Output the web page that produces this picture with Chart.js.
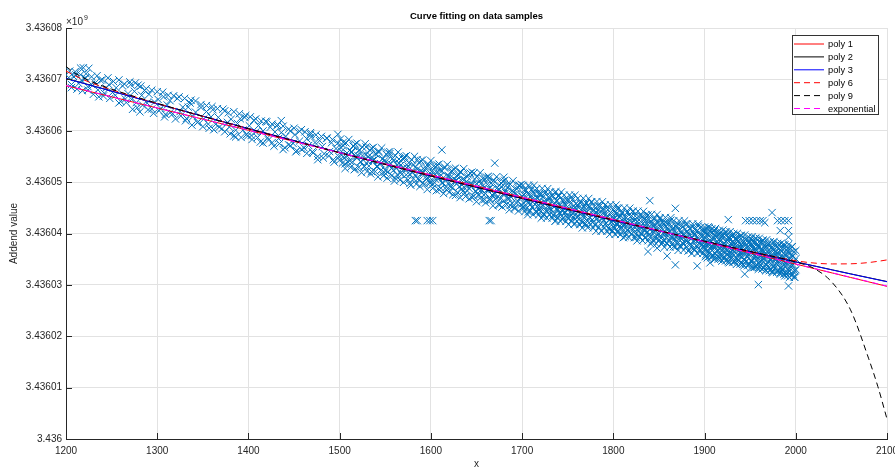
<!DOCTYPE html>
<html><head><meta charset="utf-8">
<script src="https://cdn.jsdelivr.net/npm/chart.js@4.4.0/dist/chart.umd.min.js"></script>
<style>html,body{margin:0;padding:0;background:#fff;}canvas{display:block}</style>
</head><body>
<canvas id="c" width="895" height="467"></canvas>
<script>
const chartTitle = 'Curve fitting on data samples';
const xAxisTitle = 'x';
const yAxisTitle = 'Addend value';
const exponentLabel = ['\u00d710', '9'];
const xTicks = [1200,1300,1400,1500,1600,1700,1800,1900,2000,2100];
const yTicks = [3436000000,3436010000,3436020000,3436030000,3436040000,3436050000,3436060000,3436070000,3436080000];
const fitLabels = ['poly 1','poly 2','poly 3','poly 6','poly 9','exponential'];

const sampleX = [
1203,1206,1208,1216,1219,1225,1221,1211,1214,1217,1221,1224,1228,1232,1235,1238,1241,1244,1247,1251,1255,1258,1262,1265,1268,1271,1273,1275,1277,1279,1281,1283,1286,1289,1291,1294,1297,
1301,1304,1307,1309,1311,1314,1317,1322,1325,1328,1331,1334,1337,1339,1342,1345,1348,1351,1354,1357,1359,1361,1364,1367,1371,1374,1377,1379,1381,1384,1386,1388,1391,1394,1397,1399,
1401,1403,1406,1408,1411,1413,1416,1419,1421,1424,1426,1429,1431,1433,1436,1438,1441,1444,1446,1449,1451,1453,1456,1458,1461,1464,1466,1469,1471,1473,1476,1478,1481,1483,1486,1489,1491,1493,1496,1499,1436,1468,1498,
1501,1502,1504,1506,1508,1511,1513,1515,1517,1519,1521,1523,1525,1527,1529,1531,1533,1535,1537,1539,1541,1543,1545,1547,1549,1551,1553,1555,1557,1559,1561,1563,1565,1567,1569,1571,1573,1575,1577,1579,1581,1583,1585,1587,1589,1591,1593,1595,1597,1599,
1583,1585,1596,1599,1602,1664,1666,1612,1670,
1600,1602,1603,1605,1607,1609,1610,1612,1614,1615,1617,1619,1620,1622,1624,1625,1627,1629,1630,1632,1634,1635,1637,1639,1640,1642,1644,1645,1647,1649,1650,1652,1654,1655,1657,1659,1660,1662,1664,1665,1667,1669,1670,1672,1674,1675,1677,1679,1680,1682,1684,1685,1687,1689,1690,1692,1694,1695,1697,1699,
1700,1701,1703,1704,1706,1707,1708,1709,1710,1711,1713,1714,1716,1717,1718,1719,1720,1721,1723,1724,1726,1727,1728,1729,1730,1731,1733,1734,1736,1737,1738,1739,1740,1741,1743,1744,1746,1747,1748,1749,1750,1751,1753,1754,1756,1757,1758,1759,1760,1761,1763,1764,1766,1767,1768,1769,1770,1771,1773,1774,1776,1777,1778,1779,1780,1781,1783,1784,1786,1787,1788,1789,1790,1791,1793,1794,1796,1797,1798,1799,
1800,1801,1802,1803,1804,1805,1806,1807,1808,1809,1810,1811,1812,1813,1814,1815,1816,1817,1818,1819,1820,1821,1822,1823,1824,1825,1826,1827,1828,1829,1830,1831,1832,1833,1834,1835,1836,1837,1838,1839,1840,1841,1842,1843,1844,1845,1846,1847,1848,1849,1850,1851,1852,1853,1854,1855,1856,1857,1858,1859,1860,1861,1862,1863,1864,1865,1866,1867,1868,1869,1870,1871,1872,1873,1874,1875,1876,1877,1878,1879,1880,1881,1882,1883,1884,1885,1886,1887,1888,1889,1890,1891,1892,1893,1894,1895,1896,1897,1898,1899,
1900,1901,1901,1902,1903,1904,1905,1906,1907,1907,1908,1909,1910,1911,1911,1912,1913,1914,1915,1916,1917,1917,1918,1919,1920,1921,1921,1922,1923,1924,1925,1926,1926,1927,1928,1929,1930,1931,1931,1932,1933,1934,1935,1936,1937,1937,1938,1939,1940,1941,1941,1942,1943,1944,1945,1946,1947,1947,1948,1949,1950,1951,1951,1952,1953,1954,1955,1956,1957,1957,1958,1959,1960,1961,1961,1962,1963,1964,1965,1966,1967,1967,1968,1969,1970,1971,1971,1972,1973,1974,1975,1976,1977,1977,1978,1979,1980,1981,1981,1982,1983,1984,1985,1986,1987,1987,1988,1989,1990,1991,1991,1992,1993,1994,1995,1996,1997,1997,1998,2000,2000,2000,
1945,1949,1953,1957,1961,1964,1980,1984,1988,1992,1926,1974,1966,1983,1992,1992,1944,1959,1992,1840,1868,1838,1848,1859,1868,1892,1906,1736,1680
];
const sampleY = [
3436070350,3436069000,3436070600,3436072200,3436072250,3436072150,3436070270,3436070854,3436069204,3436069854,3436070158,3436067908,3436069008,3436069312,3436067962,3436069812,3436066766,3436068316,3436068966,3436067470,3436068370,3436065420,3436068724,3436066174,3436067224,3436068978,3436064178,3436067678,3436065478,3436068878,3436063682,3436066882,3436067832,3436065382,3436067086,3436064236,3436065586,
3436066090,3436064346,3436066602,3436063206,3436065008,3436065864,3436063320,3436066278,3436063734,3436064590,3436061944,3436064600,3436065956,3436062760,3436063614,3436061770,3436064526,3436062280,3436063736,3436060492,3436062696,3436064098,3436061254,3436062610,3436060416,3436063872,3436061628,3436060732,3436062234,3436058990,3436058794,3436061398,3436062352,3436060108,3436062964,3436058968,
3436060972,3436059078,3436062037,3436059743,3436061004,3436057810,3436059970,3436061830,3436058636,3436060695,3436057701,3436059760,3436060968,3436058474,3436059633,3436056339,3436058900,3436057259,3436059965,3436057524,3436059232,3436056138,3436057997,3436060203,3436056664,3436058423,3436057129,3436058790,3436055696,3436057703,3436054362,3436058069,3436056928,3436055535,3436058494,3436055954,3436057660,3436054366,3436056526,3436054985,3436061970,3436059630,3436059300,
3436056796,3436055250,3436057759,3436053569,3436055678,3436054142,3436055951,3436056960,3436052569,3436054678,3436056188,3436053997,3436055106,3436053015,3436056824,3436054034,3436055243,3436052052,3436054261,3436055570,3436052980,3436055789,3436053598,3436054507,3436051916,3436054026,3436052035,3436055544,3436052653,3436054262,3436050772,3436053281,3436054490,3436051899,3436052708,3436054618,3436051427,3436053136,3436049745,3436051954,3436053364,3436051373,3436054382,3436050391,3436052200,3436049810,3436052419,3436051128,3436053137,3436050146,
3436042510,3436042510,3436042510,3436042510,3436042510,3436042510,3436042510,3436056265,3436053700,
3436051605,3436049617,3436053073,3436050585,3436051997,3436048509,3436052265,3436049877,3436050889,3436052945,3436048557,3436051069,3436049925,3436052037,3436048949,3436050705,3436047417,3436051129,3436049985,3436051997,3436048709,3436050565,3436047877,3436049289,3436051045,3436048757,3436049669,3436047025,3436051737,3436048149,3436049705,3436047517,3436050229,3436048485,3436050697,3436046609,3436047765,3436049577,3436050789,3436046745,3436048557,3436047769,3436050025,3436046937,3436048449,3436045505,3436049117,3436047629,3436046385,3436048397,3436049609,3436046965,3436045477,3436048289,3436047545,3436045057,3436048669,3436046325,3436049237,3436045649,
3436047310,3436045168,3436048583,3436046340,3436047755,3436044213,3436049070,3436045628,3436047385,3436045143,3436046458,3436048415,3436044130,3436046788,3436045545,3436047503,3436045060,3436047718,3436043333,3436046190,3436048105,3436044363,3436046520,3436045478,3436046935,3436044793,3436047408,3436043565,3436045880,3436042538,3436046295,3436044753,3436047410,3436044068,3436045283,3436042740,3436046455,3436044213,3436045570,3436043228,3436044785,3436046543,3436043258,3436047115,3436044030,3436045388,3436041945,3436044803,3436043160,3436045518,3436043833,3436046190,3436042105,3436044663,3436043120,3436045578,3436044235,3436041693,3436045208,3436043065,3436046080,3436042138,3436043695,3436044553,3436041710,3436043968,3436045483,3436042340,3436044355,3436040513,3436042970,3436044828,3436043885,3436041743,3436043158,3436045215,3436040730,3436044088,3436042145,3436043303,
3436042858,3436041017,3436044176,3436041835,3436044894,3436040153,3436043211,3436042170,3436043529,3436041188,3436044147,3436041706,3436042665,3436039424,3436043083,3436040642,3436044201,3436041960,3436041019,3436043278,3436039936,3436042095,3436044354,3436041313,3436042772,3436039231,3436042289,3436040548,3436043307,3436041266,3436042325,3436039884,3436043343,3436040702,3436041661,3436039120,3436042678,3436040337,3436043596,3436041155,3436039814,3436042173,3436038332,3436041491,3436042950,3436040309,3436041667,3436038926,3436040885,3436042344,3436039903,3436042862,3436039121,3436040980,3436038239,3436041698,3436040056,3436042215,3436039274,3436041033,3436041792,3436038451,3436040210,3436042569,3436039128,3436040987,3436037445,3436040304,3436039463,3436041222,3436038481,3436041840,3436039599,3436037558,3436040317,3436038976,3436041234,3436037893,3436039752,3436041811,3436038570,3436040429,3436036588,3436039747,3436041006,3436037965,3436039323,3436041282,3436037141,3436039800,3436038659,3436040418,3436037477,3436041436,3436038795,3436036454,3436039613,3436037972,3436040531,3436037490,
3436040847,3436037007,3436039107,3436035668,3436039828,3436037988,3436041149,3436036309,3436038469,3436037369,3436040029,3436035790,3436039150,3436037410,3436040610,3436035170,3436038331,3436036591,3436039551,3436037712,3436040072,3436035772,3436038632,3436036693,3436039653,3436035213,3436038113,3436037074,3436040334,3436035894,3436038755,3436034515,3436037415,3436039275,3436036236,3436038096,3436035456,3436039716,3436036816,3436038177,3436034537,3436037397,3436039057,3436035818,3436038478,3436034878,3436037538,3436036199,3436039559,3436035319,3436037219,3436033980,3436037940,3436036400,3436038860,3436034621,3436037381,3436035581,3436038241,3436034102,3436036462,3436038922,3436034722,3436037383,3436033343,3436038203,3436035663,3436039124,3436033984,3436036684,3436034844,3436037505,3436033465,3436038225,3436035625,3436036786,3436034146,3436038606,3436034966,3436037127,3436032887,3436036087,3436037547,3436034408,3436038068,3436033428,3436036228,3436034889,3436037149,3436032509,3436035669,3436038230,3436033790,3436036390,3436034950,3436037311,3436032771,3436036431,3436034231,3436037792,3436032352,3436035612,3436033173,3436036833,3436034693,3436037893,3436031754,3436035814,3436033674,3436037134,3436032434,3436035195,3436031455,3436036215,3436033976,3436037436,3436032596,3436035596,3436031557,3436035077,3436032977,3436036677,
3436042500,3436042500,3436042500,3436042500,3436042500,3436042500,3436042500,3436042500,3436042500,3436042500,3436042700,3436044070,3436042100,3436040560,3436040560,3436039280,3436032100,3436030050,3436029800,3436046400,3436044900,3436036480,3436037150,3436035640,3436033890,3436033700,3436034300,3436047960,3436050950
];

const moreX = [
1204,1206,1210,1212,1216,1218,1222,1224,1228,1230,1234,1236,1240,1242,1246,1248,1252,1254,1258,1260,1264,1266,1270,1272,1276,1278,1282,1284,1288,1290,1294,1296,1300,1302,1306,1308,1312,1314,1318,1320,1324,1326,1330,1332,1336,1338,1342,1344,1348,1350,1354,1356,1360,1362,1366,1368,1372,1374,1378,1380,1384,1386,1390,1392,1396,1398,1402,1404,1408,1410,1414,1416,1420,1422,1426,1428,1432,1434,1438,1440,1444,1446,1450,1452,1456,1458,1462,1464,1468,1470,1474,1476,1480,1482,1486,1488,1492,1494,1498,1500,
1501,1502,1503,1504,1505,1506,1507,1508,1509,1510,1511,1512,1513,1514,1515,1516,1517,1518,1519,1520,1521,1522,1523,1524,1525,1526,1527,1528,1529,1530,1531,1532,1533,1534,1535,1536,1537,1538,1539,1540,1541,1542,1543,1544,1545,1546,1547,1548,1549,1550,1551,1552,1553,1554,1555,1556,1557,1558,1559,1560,1561,1562,1563,1564,1565,1566,1567,1568,1569,1570,1571,1572,1573,1574,1575,1576,1577,1578,1579,1580,1581,1582,1583,1584,1585,1586,1587,1588,1589,1590,1591,1592,1593,1594,1595,1596,1597,1598,1599,1600,1601,1602,1603,1604,1605,1606,1607,1608,1609,1610,1611,1612,1613,1614,1615,1616,1617,1618,1619,1620,1621,1622,1623,1624,1625,1626,1627,1628,1629,1630,1631,1632,1633,1634,1635,1636,1637,1638,1639,1640,1641,1642,1643,1644,1645,1646,1647,1648,1649,1650,1651,1652,1653,1654,1655,1656,1657,1658,1659,1660,1661,1662,1663,1664,1665,1666,1667,1668,1669,1670,1671,1672,1673,1674,1675,1676,1677,1678,1679,1680,1681,1682,1683,1684,1685,1686,1687,1688,1689,1690,1691,1692,1693,1694,1695,1696,1697,1698,1699,1700,1701,
1701,1702,1702,1703,1704,1705,1705,1706,1707,1708,1708,1709,1710,1711,1711,1712,1713,1714,1714,1715,1716,1717,1717,1718,1719,1720,1720,1721,1722,1723,1723,1724,1725,1726,1726,1727,1728,1729,1729,1730,1731,1732,1732,1733,1734,1735,1735,1736,1737,1738,1738,1739,1740,1741,1741,1742,1743,1744,1744,1745,1746,1747,1747,1748,1749,1750,1750,1751,1752,1753,1753,1754,1755,1756,1756,1757,1758,1759,1759,1760,1761,1762,1762,1763,1764,1765,1765,1766,1767,1768,1768,1769,1770,1771,1771,1772,1773,1774,1774,1775,1776,1777,1777,1778,1779,1780,1780,1781,1782,1783,1783,1784,1785,1786,1786,1787,1788,1789,1789,1790,1791,1792,1792,1793,1794,1795,1795,1796,1797,1798,1798,1799,1800,1801,1801,1802,1803,1804,1804,1805,1806,1807,1807,1808,1809,1810,1810,1811,1812,1813,1813,1814,1815,1816,1816,1817,1818,1819,1819,1820,1821,1822,1822,1823,1824,1825,1825,1826,1827,1828,1828,1829,1830,1831,1831,1832,1833,1834,1834,1835,1836,1837,1837,1838,1839,1840,1840,1841,1842,1843,1843,1844,1845,1846,1846,1847,1848,1849,1849,1850,1851,1852,1852,1853,1854,1855,1855,1856,1857,1858,1858,1859,1860,1861,1861,1862,1863,1864,1864,1865,1866,1867,1867,1868,1869,1870,1870,1871,1872,1873,1873,1874,1875,1876,1876,1877,1878,1879,1879,1880,1881,1882,1882,1883,1884,1885,1885,1886,1887,1888,1888,1889,1890,1891,1891,1892,1893,1894,1894,1895,1896,1897,1897,1898,1899,1900,1900,1901,
1900,1900,1901,1901,1902,1902,1903,1903,1904,1904,1905,1905,1906,1906,1907,1907,1908,1908,1909,1909,1910,1910,1911,1911,1912,1912,1913,1913,1914,1914,1915,1915,1916,1916,1917,1917,1918,1918,1919,1919,1920,1920,1921,1921,1922,1922,1923,1923,1924,1924,1925,1925,1926,1926,1927,1927,1928,1928,1929,1929,1930,1930,1931,1931,1932,1932,1933,1933,1934,1934,1935,1935,1936,1936,1937,1937,1938,1938,1939,1939,1940,1940,1941,1941,1942,1942,1943,1943,1944,1944,1945,1945,1946,1946,1947,1947,1948,1948,1949,1949,1950,1950,1951,1951,1952,1952,1953,1953,1954,1954,1955,1955,1956,1956,1957,1957,1958,1958,1959,1959,1960,1960,1961,1961,1962,1962,1963,1963,1964,1964,1965,1965,1966,1966,1967,1967,1968,1968,1969,1969,1970,1970,1971,1971,1972,1972,1973,1973,1974,1974,1975,1975,1976,1976,1977,1977,1978,1978,1979,1979,1980,1980,1981,1981,1982,1982,1983,1983,1984,1984,1985,1985,1986,1986,1987,1987,1988,1988,1989,1989,1990,1990,1991,1991,1992,1992,1993,1993,1994,1994,1995,1995,1996,1996,1997,1997,1998,1998,1999,1999
];
const moreY = [
3436071600,3436068400,3436071500,3436068100,3436070900,3436067800,3436071100,3436068600,3436070500,3436067100,3436070700,3436066600,3436069900,3436067300,3436070300,3436066300,3436069600,3436066900,3436069900,3436065700,3436069100,3436065500,3436069500,3436066100,3436069300,3436064500,3436068700,3436065000,3436068200,3436064100,3436067900,3436063400,3436067600,3436063900,3436067500,3436062700,3436066900,3436063500,3436066800,3436062300,3436066600,3436062900,3436066300,3436062400,3436065400,3436061100,3436065800,3436061600,3436065100,3436060800,3436064900,3436061300,3436064700,3436060200,3436064300,3436060700,3436064200,3436059800,3436063500,3436059400,3436063700,3436060100,3436063300,3436058700,3436062600,3436059300,3436062700,3436058300,3436062300,3436058700,3436061900,3436057600,3436061700,3436058200,3436061300,3436057000,3436061200,3436057500,3436060900,3436056700,3436060300,3436057100,3436060500,3436055900,3436059900,3436056400,3436059800,3436055600,3436059300,3436055900,3436059200,3436055000,3436058900,3436054700,3436058600,3436055100,3436058300,3436053900,3436057600,3436054300,
3436058400,3436056000,3436053700,3436057060,3436054760,3436052660,3436057620,3436055120,3436053920,3436058290,3436056190,3436052890,3436055750,3436053950,3436057050,3436052420,3436057420,3436055020,3436057580,3436055180,3436052880,3436056240,3436053940,3436051840,3436056810,3436054310,3436053110,3436057470,3436055370,3436052070,3436054930,3436053130,3436056230,3436051600,3436056600,3436054200,3436056760,3436054360,3436052060,3436055430,3436053130,3436051030,3436055990,3436053490,3436052290,3436056650,3436054550,3436051250,3436054120,3436052320,3436055420,3436050780,3436055780,3436053380,3436055940,3436053540,3436051240,3436054610,3436052310,3436050210,3436055170,3436052670,3436051470,3436055840,3436053740,3436050440,3436053300,3436051500,3436054600,3436049960,3436054960,3436052560,3436055130,3436052730,3436050430,3436053790,3436051490,3436049390,3436054350,3436051850,3436050650,3436055020,3436052920,3436049620,3436052480,3436050680,3436053780,3436049150,3436054150,3436051750,3436054310,3436051910,3436049610,3436052970,3436050670,3436048570,3436053540,3436051040,3436049840,3436054200,3436052100,3436048800,3436051670,3436049870,3436052970,3436048340,3436053340,3436050940,3436053510,3436051110,3436048810,3436052180,3436049880,3436047780,3436052750,3436050250,3436049050,3436053410,3436051310,3436048010,3436050880,3436049080,3436052180,3436047550,3436052550,3436050150,3436052720,3436050320,3436048020,3436051390,3436049090,3436046990,3436051950,3436049450,3436048250,3436052620,3436050520,3436047220,3436050090,3436048290,3436051390,3436046760,3436051760,3436049360,3436051930,3436049530,3436047230,3436050590,3436048290,3436046190,3436051160,3436048660,3436047460,3436051830,3436049730,3436046430,3436049300,3436047500,3436050600,3436045970,3436050970,3436048570,3436051130,3436048730,3436046430,3436049800,3436047500,3436045400,3436050370,3436047870,3436046670,3436051040,3436048940,3436045640,3436048510,3436046710,3436049810,3436045170,3436050170,3436047770,3436050340,3436047940,3436045640,3436049010,3436046710,3436044610,3436049580,3436047080,3436045880,3436050250,3436048150,3436044850,3436047710,3436045910,3436049010,3436044380,3436049380,3436046980,3436049550,3436047150,3436044850,
3436049370,3436047570,3436045870,3436044270,3436048440,3436046440,3436044940,3436043640,3436049410,3436047710,3436046110,3436044410,3436048490,3436046690,3436045090,3436043690,3436049360,3436047760,3436045660,3436044360,3436048730,3436046930,3436045230,3436043630,3436047800,3436045800,3436044300,3436043000,3436048780,3436047080,3436045480,3436043780,3436047850,3436046050,3436044450,3436043050,3436048720,3436047120,3436045020,3436043720,3436048090,3436046290,3436044590,3436042990,3436047170,3436045170,3436043670,3436042370,3436048140,3436046440,3436044840,3436043140,3436047210,3436045410,3436043810,3436042410,3436048080,3436046480,3436044380,3436043080,3436047460,3436045660,3436043960,3436042360,3436046530,3436044530,3436043030,3436041730,3436047500,3436045800,3436044200,3436042500,3436046570,3436044770,3436043170,3436041770,3436047450,3436045850,3436043750,3436042450,3436046820,3436045020,3436043320,3436041720,3436045890,3436043890,3436042390,3436041090,3436046860,3436045160,3436043560,3436041860,3436045940,3436044140,3436042540,3436041140,3436046810,3436045210,3436043110,3436041810,3436046180,3436044380,3436042680,3436041080,3436045250,3436043250,3436041750,3436040450,3436046230,3436044530,3436042930,3436041230,3436045300,3436043500,3436041900,3436040500,3436046170,3436044570,3436042470,3436041170,3436045540,3436043740,3436042040,3436040440,3436044620,3436042620,3436041120,3436039820,3436045590,3436043890,3436042290,3436040590,3436044660,3436042860,3436041260,3436039860,3436045540,3436043940,3436041840,3436040540,3436044910,3436043110,3436041410,3436039810,3436043990,3436041990,3436040490,3436039190,3436044970,3436043270,3436041670,3436039970,3436044040,3436042240,3436040640,3436039240,3436044920,3436043320,3436041220,3436039920,3436044300,3436042500,3436040800,3436039200,3436043370,3436041370,3436039870,3436038570,3436044350,3436042650,3436041050,3436039350,3436043430,3436041630,3436040030,3436038630,3436044300,3436042700,3436040600,3436039300,3436043680,3436041880,3436040180,3436038580,3436042760,3436040760,3436039260,3436037960,3436043730,3436042030,3436040430,3436038730,3436042810,3436041010,3436039410,3436038010,3436043690,3436042090,3436039990,3436038690,3436043060,3436041260,3436039560,3436037960,3436042140,3436040140,3436038640,3436037340,3436043120,3436041420,3436039820,3436038120,3436042190,3436040390,3436038790,3436037390,3436043070,3436041470,3436039370,3436038070,3436042450,3436040650,3436038950,3436037350,3436041520,3436039520,3436038020,3436036720,3436042500,3436040800,3436039200,3436037500,3436041580,3436039780,3436038180,3436036780,3436042450,3436040850,3436038750,3436037450,3436041830,3436040030,3436038330,3436036730,3436040910,3436038910,3436037410,3436036110,3436041880,3436040180,3436038580,3436036880,3436040960,3436039160,3436037560,3436036160,3436041840,3436040240,3436038140,3436036840,3436041210,3436039410,3436037710,3436036110,3436040290,3436038290,3436036790,3436035490,
3436041250,3436039350,3436037750,3436035850,3436040270,3436038270,3436036570,3436035270,3436041290,3436039690,3436037990,3436036090,3436040510,3436038710,3436037010,3436035310,3436040930,3436039030,3436037430,3436035530,3436039950,3436037950,3436036250,3436034950,3436040970,3436039370,3436037670,3436035770,3436040190,3436038390,3436036690,3436034990,3436040610,3436038710,3436037110,3436035210,3436039630,3436037630,3436035930,3436034630,3436040650,3436039050,3436037350,3436035450,3436039870,3436038070,3436036370,3436034670,3436040290,3436038390,3436036790,3436034890,3436039310,3436037310,3436035610,3436034310,3436040340,3436038740,3436037040,3436035140,3436039560,3436037760,3436036060,3436034360,3436039980,3436038080,3436036480,3436034580,3436039000,3436037000,3436035300,3436034000,3436040020,3436038420,3436036720,3436034820,3436039240,3436037440,3436035740,3436034040,3436039660,3436037760,3436036160,3436034260,3436038680,3436036680,3436034980,3436033680,3436039700,3436038100,3436036400,3436034500,3436038920,3436037120,3436035420,3436033720,3436039340,3436037440,3436035840,3436033940,3436038360,3436036360,3436034660,3436033360,3436039380,3436037780,3436036080,3436034180,3436038600,3436036800,3436035100,3436033400,3436039020,3436037120,3436035520,3436033620,3436038040,3436036040,3436034340,3436033040,3436039070,3436037470,3436035770,3436033870,3436038290,3436036490,3436034790,3436033090,3436038710,3436036810,3436035210,3436033310,3436037730,3436035730,3436034030,3436032730,3436038750,3436037150,3436035450,3436033550,3436037970,3436036170,3436034470,3436032770,3436038390,3436036490,3436034890,3436032990,3436037410,3436035410,3436033710,3436032410,3436038430,3436036830,3436035130,3436033230,3436037650,3436035850,3436034150,3436032450,3436038070,3436036170,3436034570,3436032670,3436037090,3436035090,3436033390,3436032090,3436038110,3436036510,3436034810,3436032910,3436037330,3436035530,3436033830,3436032130,3436037750,3436035850,3436034250,3436032350,3436036770,3436034770,3436033070,3436031770,3436037800,3436036200,3436034500,3436032600,3436037020,3436035220,3436033520,3436031820,3436037440,3436035540,3436033940,3436032040,3436036460,3436034460,3436032760,3436031460
];

const fitX = [1200,1210,1225,1250,1300,1400,1500,1600,1700,1800,1900,1950,2000,2020,2040,2060,2080,2090,2100];
const poly1 = [3436068770,3436068336,3436067685,3436066600,3436064430,3436060090,3436055750,3436051410,3436047070,3436042730,3436038390,3436036220,3436034050,3436033182,3436032314,3436031446,3436030578,3436030144,3436029710];
const poly2 = [3436070200,3436069700,3436068960,3436067720,3436065238,3436060419,3436055741,3436051205,3436046810,3436042558,3436038447,3436036460,3436034477,3436033700,3436032923,3436032150,3436031395,3436031020,3436030650];
const poly3 = [3436070150,3436069660,3436068930,3436067700,3436065230,3436060430,3436055760,3436051220,3436046820,3436042560,3436038440,3436036450,3436034460,3436033680,3436032900,3436032130,3436031370,3436030990,3436030610];
const poly6 = [3436071630,3436070700,3436069500,3436068000,3436065300,3436060400,3436055700,3436051200,3436046850,3436042600,3436038450,3436036500,3436034700,3436034250,3436034080,3436034100,3436034350,3436034580,3436034860];
const poly9 = [3436072500,3436071200,3436069800,3436068100,3436065350,3436060380,3436055720,3436051200,3436046850,3436042620,3436038500,3436036500,3436034450,3436033200,3436030450,3436025140,3436015600,3436010200,3436003900];
const expo  = [3436068800,3436068360,3436067700,3436066610,3436064440,3436060090,3436055740,3436051400,3436047060,3436042720,3436038390,3436036230,3436034060,3436033200,3436032340,3436031480,3436030620,3436030190,3436029760];

const FONT = '"Liberation Sans", Arial, Helvetica, sans-serif';
const toPts = (xs, ys) => xs.map((x, i) => ({x: x, y: ys[i]}));
const fitSeries = [poly1, poly2, poly3, poly6, poly9, expo];
const fitStyles = [
  {color:'#ff0000', dash:[]},
  {color:'#000000', dash:[]},
  {color:'#0000ff', dash:[]},
  {color:'#ff0000', dash:[6,4]},
  {color:'#000000', dash:[6,4]},
  {color:'#ff00ff', dash:[6,4]}
];

const datasets = [{
  label: 'samples',
  data: toPts(sampleX, sampleY).concat(toPts(moreX, moreY)),
  showLine: false,
  pointStyle: 'crossRot',
  pointRadius: 5.2,
  pointHoverRadius: 5.2,
  pointBorderWidth: 1,
  pointBorderColor: '#0072BD',
  pointBackgroundColor: 'rgba(0,0,0,0)',
  order: 10
}];
fitSeries.forEach((s, i) => {
  datasets.push({
    label: fitLabels[i],
    data: toPts(fitX, s),
    showLine: true,
    borderColor: fitStyles[i].color,
    borderDash: fitStyles[i].dash,
    borderWidth: 1,
    pointRadius: 0,
    pointHoverRadius: 0,
    fill: false,
    cubicInterpolationMode: 'monotone',
    order: 6 - i
  });
});

const annot = {
  id: 'annot',
  afterDraw(chart) {
    const ctx = chart.ctx, a = chart.chartArea;
    const xs = chart.scales.x, ys = chart.scales.y;
    ctx.save();
    ctx.strokeStyle = '#262626'; ctx.lineWidth = 1; ctx.setLineDash([]);
    ctx.beginPath();
    xTicks.forEach(v => { const px = Math.round(xs.getPixelForValue(v)) + 0.5; ctx.moveTo(px, a.bottom); ctx.lineTo(px, a.bottom - 6); });
    yTicks.forEach(v => { const py = Math.round(ys.getPixelForValue(v)) + 0.5; ctx.moveTo(a.left, py); ctx.lineTo(a.left + 6, py); });
    ctx.stroke();
    ctx.fillStyle = '#000';
    ctx.font = 'bold 9.5px ' + FONT;
    ctx.textAlign = 'center'; ctx.textBaseline = 'middle';
    ctx.fillText(chartTitle, (a.left + a.right) / 2, 16);
    ctx.fillStyle = '#262626'; ctx.textAlign = 'left'; ctx.textBaseline = 'alphabetic';
    ctx.font = '10px ' + FONT;
    ctx.fillText(exponentLabel[0], a.left, 25);
    const w = ctx.measureText(exponentLabel[0]).width;
    ctx.font = '7px ' + FONT;
    ctx.fillText(exponentLabel[1], a.left + w + 1, 20);
    const lx = 792, ly = 35, lw = 86, lh = 79;
    ctx.fillStyle = '#fff'; ctx.fillRect(lx, ly, lw, lh);
    ctx.strokeStyle = '#333'; ctx.strokeRect(lx + 0.5, ly + 0.5, lw, lh);
    ctx.font = '9.3px ' + FONT; ctx.textBaseline = 'middle';
    fitLabels.forEach((lab, i) => {
      const y = ly + 9 + i * 12.9;
      ctx.strokeStyle = fitStyles[i].color; ctx.setLineDash(fitStyles[i].dash);
      ctx.beginPath(); ctx.moveTo(lx + 2, y); ctx.lineTo(lx + 32, y); ctx.stroke();
      ctx.setLineDash([]);
      ctx.fillStyle = '#000'; ctx.fillText(lab, lx + 36, y + 0.5);
    });
    ctx.restore();
  }
};

new Chart(document.getElementById('c'), {
  type: 'scatter',
  data: { datasets: datasets },
  options: {
    responsive: false, animation: false, devicePixelRatio: 1,
    layout: { padding: { left: 0, right: 8, top: 28, bottom: 0 } },
    plugins: { legend: { display: false }, title: { display: false }, tooltip: { enabled: false } },
    scales: {
      x: {
        type: 'linear', min: 1200, max: 2100,
        afterBuildTicks: s => { s.ticks = xTicks.map(v => ({value: v})); },
        afterFit: s => { s.height = 28; s.paddingLeft = 0; s.paddingRight = 0; },
        grid: { color: '#e2e2e2', drawTicks: false },
        border: { color: '#262626' },
        ticks: { autoSkip: false, maxRotation: 0, padding: 6, color: '#262626', font: { size: 10, family: FONT },
          callback: v => String(v) },
        title: { display: true, text: xAxisTitle, color: '#262626', font: { size: 10, family: FONT }, padding: { top: 0, bottom: -3 } }
      },
      y: {
        type: 'linear', min: 3436000000, max: 3436080000,
        afterBuildTicks: s => { s.ticks = yTicks.map(v => ({value: v})); },
        afterFit: s => { s.width = 66; s.paddingTop = 0; s.paddingBottom = 0; },
        grid: { color: '#e2e2e2', drawTicks: false },
        border: { color: '#262626' },
        ticks: { padding: 4, color: '#262626', font: { size: 10, family: FONT },
          callback: v => String(parseFloat((v / 1e9).toFixed(5))) },
        title: { display: true, text: yAxisTitle, color: '#262626', font: { size: 10, family: FONT }, padding: { top: 8, bottom: 0 } }
      }
    }
  },
  plugins: [annot]
});
</script>
</body></html>
